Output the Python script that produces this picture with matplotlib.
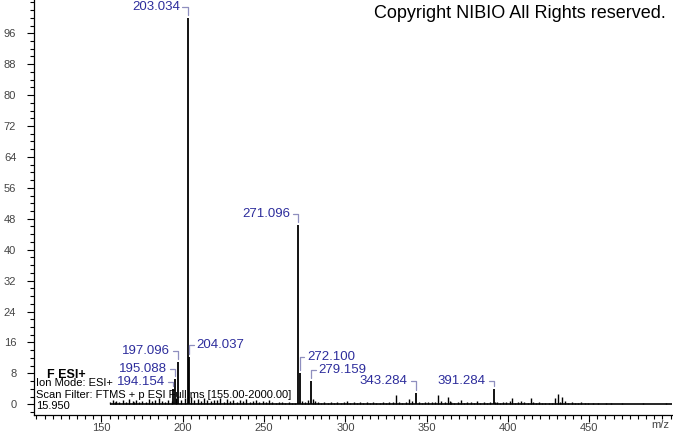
import numpy as np
import matplotlib
matplotlib.use("Agg")
import matplotlib.pyplot as plt
from matplotlib.ticker import MultipleLocator

plt.rcParams['font.family'] = ['Liberation Sans', 'DejaVu Sans']

# labelled peaks (m/z, relative abundance)
peak_mz = [194.154, 195.088, 197.096, 203.034, 204.037, 271.096, 272.100, 279.159, 343.284, 391.284]
peak_int = [4.0, 6.6, 11.0, 100.0, 12.3, 46.4, 8.2, 6.1, 2.9, 3.9]
# label placement: side of the peak and height above it (pixels)
label_side = ['L', 'L', 'L', 'L', 'R', 'L', 'R', 'R', 'L', 'L']
label_dy = [7, 10, 11, 11, 12, 11, 16, 11, 12, 8]

# unlabelled small peaks
noise_mz = [155.1, 157.0, 158.1, 159.1, 161.0, 163.1, 165.1, 167.0, 169.1, 170.1,
            171.1, 173.1, 175.1, 177.1, 179.1, 181.1, 183.1, 185.1, 187.1, 189.1,
            191.1, 193.1, 196.1, 199.1, 201.1, 205.0, 207.1, 209.1, 211.1, 213.1,
            215.1, 217.1, 219.1, 221.1, 223.1, 225.1, 227.1, 229.1, 231.1, 233.1,
            235.1, 237.1, 239.1, 241.1, 243.1, 245.1, 247.1, 249.1, 251.1, 253.1,
            255.1, 257.1, 259.1, 261.1, 263.1, 265.1, 267.1, 269.1, 273.1, 275.1,
            277.1, 280.2, 281.1, 283.1, 285.1, 287.1, 289.1, 291.1, 293.1, 295.1,
            297.1, 299.1, 301.1, 303.1, 305.1, 307.1, 309.1, 311.1, 313.1, 315.1,
            317.1, 319.1, 321.1, 323.1, 325.1, 327.1, 329.1, 331.2, 333.1, 335.1,
            337.1, 339.1, 341.1, 345.1, 347.1, 349.1, 351.1, 353.1, 355.1, 357.2,
            359.1, 361.1, 363.2, 364.2, 365.1, 367.1, 369.1, 371.2, 373.1, 375.1,
            377.1, 379.1, 381.2, 383.1, 385.1, 387.1, 389.1, 392.3, 393.1, 395.1,
            397.1, 399.1, 401.1, 402.3, 404.1, 406.1, 408.1, 410.1, 412.1, 414.3,
            415.2, 417.1, 419.1, 421.1, 423.1, 425.1, 427.1, 429.2, 430.8, 431.8,
            433.3, 434.9, 437.1, 439.1, 441.1, 443.1, 445.1, 447.1, 449.1, 452.1,
            455.1, 460.1, 463.1, 470.1, 483.1, 497.1]
noise_int = [0.6, 1.2, 0.5, 0.8, 0.7, 1.0, 0.6, 1.4, 0.8, 0.5,
             1.1, 0.7, 0.9, 0.6, 1.3, 0.8, 1.0, 1.6, 0.9, 0.7,
             1.2, 0.8, 1.5, 1.0, 1.5, 1.8, 1.0, 1.4, 0.9, 1.7,
             1.1, 0.8, 1.2, 1.0, 1.6, 0.7, 1.3, 0.9, 1.1, 0.6,
             1.0, 0.8, 1.4, 0.7, 0.9, 1.2, 0.6, 0.8, 0.5, 1.0,
             0.6, 0.4, 0.7, 0.5, 0.3, 0.6, 0.4, 0.3, 0.8, 0.5,
             1.2, 1.3, 0.8, 0.5, 0.4, 0.6, 0.4, 0.5, 0.3, 0.7,
             0.4, 0.5, 0.9, 0.4, 0.6, 0.3, 0.5, 0.4, 0.7, 0.3,
             0.5, 0.4, 0.3, 0.5, 0.4, 0.6, 0.5, 2.4, 0.5, 0.4,
             0.7, 1.4, 0.9, 0.5, 0.4, 0.6, 0.5, 0.7, 0.5, 2.5,
             0.8, 0.5, 1.9, 0.9, 0.6, 0.4, 0.5, 1.1, 0.4, 0.6,
             0.5, 0.4, 0.9, 0.4, 0.5, 0.4, 0.6, 0.7, 0.5, 0.4,
             0.6, 0.5, 0.8, 1.5, 0.4, 0.6, 0.9, 0.5, 0.4, 1.5,
             0.6, 0.4, 0.5, 0.4, 0.3, 0.4, 0.3, 1.5, 2.6, 0.6,
             1.9, 0.8, 0.4, 0.5, 0.3, 0.4, 0.6, 0.3, 0.4, 0.3,
             0.4, 0.3, 0.3, 0.3, 0.3, 0.3]

scan_start = 155.0
x_range = (108.7, 500.9)
y_range = (-2.77, 104.6)

label_col = '#2d2d9c'
bracket_col = '#8f8fbf'

fig = plt.figure(figsize=(6.73, 4.33), dpi=100)
ax = fig.add_axes([0.051, 0.0416, 0.9475, 0.9584])

# spectrum
ax.hlines(0, scan_start, x_range[1], color='black', lw=1.2)
ax.vlines(noise_mz, 0, noise_int, color='black', lw=1.0)
ax.vlines(peak_mz, 0, peak_int, color='black', lw=1.3)

# peak labels with the little bracket
for mz, it, side, dy in zip(peak_mz, peak_int, label_side, label_dy):
    if side == 'L':
        dx, ha = -8, 'right'
    else:
        dx, ha = 7, 'left'
    ax.annotate('%.3f' % mz, xy=(mz, it), xytext=(dx, dy), textcoords='offset pixels',
                ha=ha, va='center', color=label_col, fontsize=9.5,
                arrowprops=dict(arrowstyle='-', color=bracket_col, lw=0.9,
                                connectionstyle='angle,angleA=0,angleB=90,rad=0',
                                shrinkA=0, shrinkB=2.2))

ax.set_xlim(*x_range)
ax.set_ylim(*y_range)
ax.xaxis.set_major_locator(MultipleLocator(50))
ax.xaxis.set_minor_locator(MultipleLocator(5))
ax.yaxis.set_major_locator(MultipleLocator(8))
ax.yaxis.set_minor_locator(MultipleLocator(2))
ax.tick_params(axis='both', which='major', labelsize=8, labelcolor='#444444', width=0.8)
ax.tick_params(axis='x', which='major', length=5, pad=1)
ax.tick_params(axis='x', which='minor', length=3, width=0.8)
ax.tick_params(axis='y', which='major', length=5, pad=8)
ax.tick_params(axis='y', which='minor', length=3, width=0.8)
ax.set_xticks([150, 200, 250, 300, 350, 400, 450])
ax.set_yticks(np.arange(0, 97, 8))

for s in ['top', 'right']:
    ax.spines[s].set_visible(False)
ax.spines['left'].set_linewidth(0.9)
ax.spines['bottom'].set_linewidth(0.9)

# header and scan info texts
W, H = 673, 433
fig.text(666 / W, 1 - 14 / H, 'Copyright NIBIO All Rights reserved.', ha='right', va='center',
         fontsize=13, color='black')
fig.text(47 / W, 1 - 375 / H, 'F ESI+', ha='left', va='center', fontsize=9, fontweight='bold')
fig.text(36 / W, 1 - 383 / H, 'Ion Mode: ESI+', ha='left', va='center', fontsize=8)
fig.text(36 / W, 1 - 395 / H, 'Scan Filter: FTMS + p ESI Full ms [155.00-2000.00]',
         ha='left', va='center', fontsize=8)
fig.text(36 / W, 1 - 406 / H, '15.950', ha='left', va='center', fontsize=8)
fig.text(660 / W, 1 - 425 / H, 'm/z', ha='center', va='center', fontsize=8, color='#444444')

fig.savefig('out.png', dpi=100)
